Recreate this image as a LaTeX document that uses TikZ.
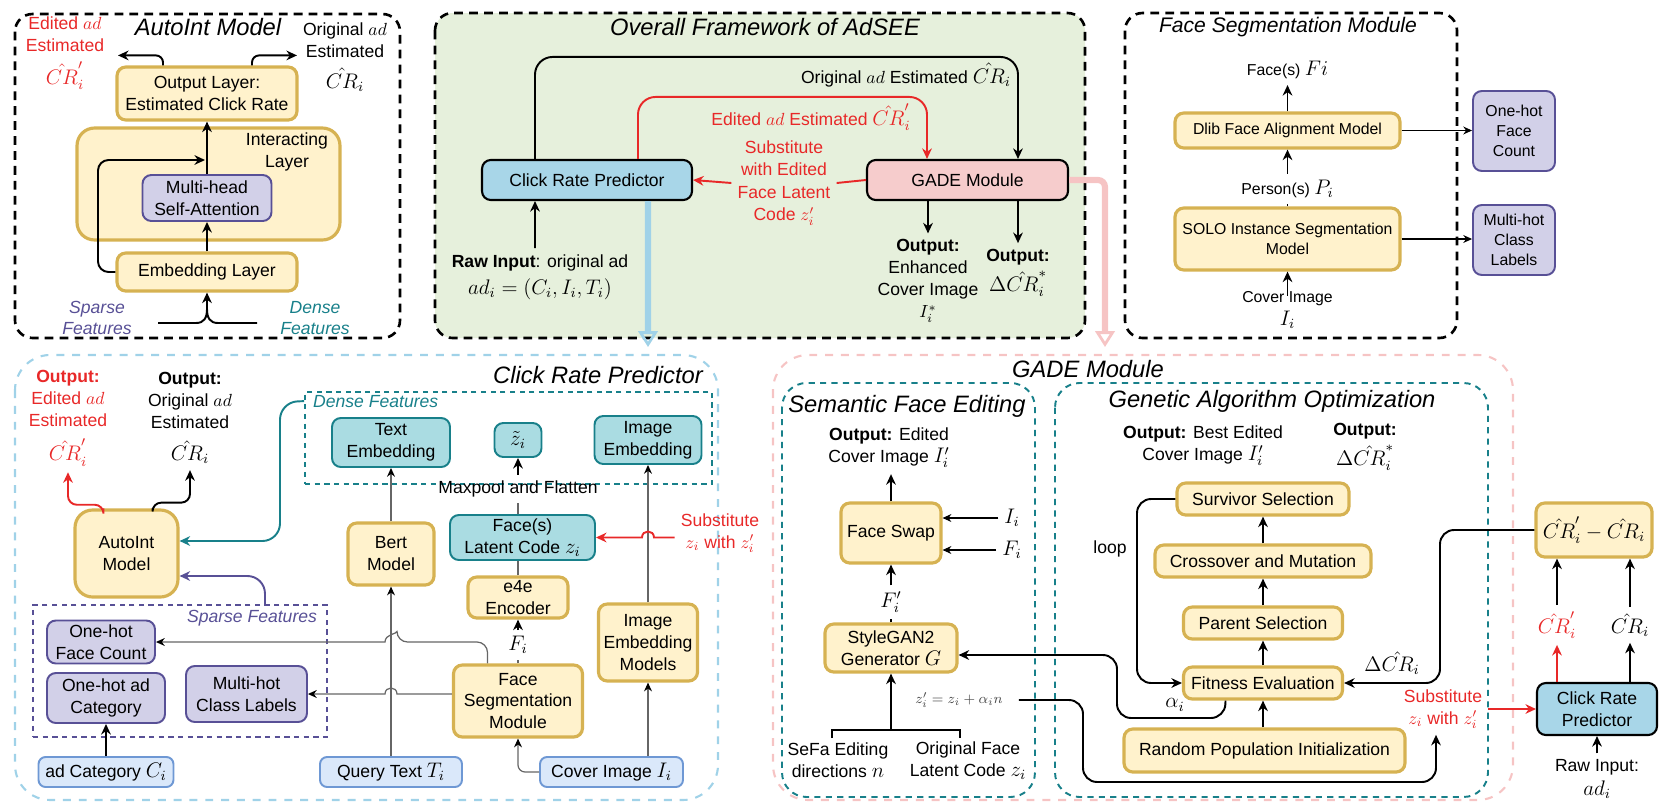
\documentclass[tikz,border=0pt]{standalone}
\usepackage{amsmath}
\usepackage[no-math]{fontspec}
\setmainfont{Liberation Sans}
\usepackage{xcolor}
\definecolor{adyellow}{RGB}{255,242,204}
\definecolor{adgold}{RGB}{214,178,82}
\definecolor{adpurple}{RGB}{210,208,232}
\definecolor{adpurpled}{RGB}{88,80,150}
\definecolor{adteal}{RGB}{170,220,226}
\definecolor{adteald}{RGB}{24,128,138}
\definecolor{adinput}{RGB}{218,232,250}
\definecolor{adinputd}{RGB}{110,152,212}
\definecolor{adcrp}{RGB}{168,214,232}
\definecolor{adpink}{RGB}{246,204,204}
\definecolor{adgreen}{RGB}{230,240,220}
\definecolor{adred}{RGB}{232,40,40}
\definecolor{adlblue}{RGB}{160,210,232}
\definecolor{adlpink}{RGB}{246,196,196}
\usepackage{tikz}
\usetikzlibrary{arrows.meta, positioning, calc}

\begin{document}
\begin{tikzpicture}[x=0.02cm, y=-0.02cm,
  every node/.style={font=\fontsize{10}{12.5}\selectfont, align=center},
  title/.style={font=\fontsize{13.5}{16}\selectfont\itshape},
  fs/.style={font=\fontsize{9}{11.5}\selectfont},
  panel/.style={draw=black, line width=1.5pt, dash pattern=on 5pt off 3.5pt, rounded corners=10pt},
  bigpanel/.style={line width=1.2pt, dash pattern=on 4.5pt off 4.5pt, rounded corners=20pt},
  subpanel/.style={draw=adteald, line width=1.1pt, dash pattern=on 3.5pt off 3pt, rounded corners=14pt},
  featbox/.style={line width=1pt, dash pattern=on 3pt off 2.5pt, minimum width=1cm},
  ybox/.style={rectangle, rounded corners=5pt, draw=adgold, line width=1.8pt, fill=adyellow, inner sep=1pt},
  pbox/.style={rectangle, rounded corners=5pt, draw=adpurpled, line width=1.1pt, fill=adpurple, inner sep=1pt},
  tbox/.style={rectangle, rounded corners=5pt, draw=adteald, line width=1.1pt, fill=adteal, inner sep=1pt},
  ibox/.style={rectangle, rounded corners=4pt, draw=adinputd, line width=1.1pt, fill=adinput, inner sep=1pt},
  kbox/.style={rectangle, rounded corners=5pt, draw=black, line width=1.2pt, inner sep=1pt},
  arr/.style={-{Stealth[length=6pt, width=5.5pt]}, line width=1.1pt},
  tarr/.style={-{Stealth[length=5pt, width=4.5pt]}, line width=0.6pt},
  garr/.style={-{Stealth[length=5pt, width=4.5pt, color=black]}, line width=0.7pt, draw=black!60},
  rarr/.style={arr, draw=adred},
  fatarr/.style={line width=3.5pt, -{Triangle[open, length=9pt, width=11pt, line width=1.6pt]}}
]
\useasboundingbox (0,0) rectangle (1660,805);

\draw[panel] (15,14) rectangle (400,338);
\draw[panel, fill=adgreen] (435,13) rectangle (1085,338);
\draw[panel] (1125,13) rectangle (1457,338);
\draw[bigpanel, draw=adlblue] (15,355) rectangle (718,800);
\draw[bigpanel, draw=adlpink] (773,355) rectangle (1513,800);
\draw[subpanel] (782,383) rectangle (1035,797);
\draw[subpanel] (1055,383) rectangle (1488,797);

\node[title] (tauto) at (208,27) {AutoInt Model};
\node[title] (tover) at (765,27) {Overall Framework of AdSEE};
\node[title, font=\fontsize{12}{14}\selectfont\itshape] (tfseg) at (1288,27) {Face Segmentation Module};
\node[title] (tcrp) at (598,375) {Click Rate Predictor};
\node[title] (tgade) at (1088,369) {GADE Module};
\node[title] (tsfe) at (907,406) {Semantic Face Editing};
\node[title] (tga) at (1272,401) {Genetic Algorithm Optimization};

\node[ybox, rounded corners=10pt, minimum width=5.26cm, minimum height=2.24cm] (inter) at (208.5,184) {};
\node (interl) at (287,152) {Interacting\\Layer};
\node[ybox, minimum width=3.6cm, minimum height=1.06cm] (outl) at (207,93.5) {Output Layer:\\Estimated Click Rate};
\node[pbox, minimum width=2.58cm, minimum height=0.92cm] (mhsa) at (207,198) {Multi-head\\Self-Attention};
\node[ybox, minimum width=3.6cm, minimum height=0.76cm] (embl) at (207,272) {Embedding Layer};
\node[text=adred] (edest) at (65,53) {Edited $ad$\\Estimated\\[5pt]{\large$\hat{CR}'_i$}};
\node (orest) at (345,57) {Original $ad$\\Estimated\\[5pt]{\large$\hat{CR}_i$}};
\node[text=adpurpled, font=\itshape] (sparl) at (97,318) {Sparse\\Features};
\node[text=adteald, font=\itshape] (densl) at (315,318) {Dense\\Features};
\coordinate (brk) at (207,309);
\coordinate (resin) at (205,160);
\draw[arr] (embl) -- (mhsa);
\draw[arr] (mhsa) -- (outl);
\draw[arr, rounded corners=6pt] (embl.west) -- (98,272) -- (98,160) -- (resin);
\draw[arr, rounded corners=4pt] ([xshift=-0.88cm]outl.north) -- ++(0,-10) -- ++(-45,0);
\draw[arr, rounded corners=4pt] ([xshift=0.9cm]outl.north) -- ++(0,-10) -- ++(45,0);
\draw[line width=1.1pt] (158,323) -- (196,323) .. controls (204,323) and (207,318) .. (brk) .. controls (207,318) and (210,323) .. (218,323) -- (257,323);
\draw[arr] (brk) -- (embl);

\node[kbox, fill=adcrp, minimum width=4.2cm, minimum height=0.8cm] (crp) at (587,180) {Click Rate Predictor};
\node[kbox, fill=adpink, minimum width=4.02cm, minimum height=0.8cm] (gade) at (967.5,180) {GADE Module};
\node (origl) at (906,75) {Original $ad$ Estimated {\large$\hat{CR}_i$}};
\node[text=adred] (editl) at (811,117) {Edited $ad$ Estimated {\large$\hat{CR}'_i$}};
\node[text=adred, font=\fontsize{10}{12.8}\selectfont] (subl) at (784,183) {Substitute\\with Edited\\Face Latent\\Code $z'_i$};
\node (rawl) at (540,277) {\textbf{Raw Input}: original ad\\[3pt]{\large$ad_i=(C_i,I_i,T_i)$}};
\node (enhl) at (928,281) {\textbf{Output:}\\Enhanced\\Cover Image\\$I_i^*$};
\node (dstl) at (1018,273) {\textbf{Output:}\\[2pt]{\large$\Delta\hat{CR}_i^*$}};
\coordinate (crpin) at (648,347);
\coordinate (gadein) at (1105,347);
\draw[arr, rounded corners=10pt] ([xshift=-1.04cm]crp.north) -- ++(0,-102) -| ([xshift=1.01cm]gade.north);
\draw[rarr, rounded corners=10pt] ([xshift=1.02cm]crp.north) -- ++(0,-62) -| ([xshift=-0.81cm]gade.north);
\draw[line width=1.1pt, adred] (gade.west) -- (subl.east);
\draw[rarr] (subl.west) -- (crp.east);
\draw[arr] ([xshift=-0.1cm]rawl.north) -- ([xshift=-1.04cm]crp.south);
\draw[arr] (gade.south -| enhl.north) -- (enhl.north);
\draw[arr] (gade.south -| dstl.north) -- (dstl.north);
\draw[fatarr, adlblue] ([xshift=1.22cm]crp.south) -- (crpin);
\draw[fatarr, adlpink, rounded corners=4pt] (gade.east) -- (1105,180) -- (gadein);

\node[ybox, fs, minimum width=4.5cm, minimum height=0.7cm] (dlib) at (1287.5,130.5) {Dlib Face Alignment Model};
\node[ybox, fs, minimum width=4.5cm, minimum height=1.24cm] (solo) at (1287.5,239) {SOLO Instance Segmentation\\Model};
\node[pbox, fs, minimum width=1.64cm, minimum height=1.6cm] (fcnt) at (1514,131) {One-hot\\Face\\Count};
\node[pbox, fs, minimum width=1.64cm, minimum height=1.4cm] (clab) at (1514,240) {Multi-hot\\Class\\Labels};
\node[fs] (facel) at (1287.5,70) {Face(s) {\large$Fi$}};
\node[fs] (persl) at (1287.5,189) {Person(s) {\large$P_i$}};
\node[fs] (covl) at (1287.5,310) {Cover Image\\[2pt]{\large$I_i$}};
\draw[arr] (dlib) -- (facel);
\draw[arr] (persl) -- (dlib);
\draw[line width=0.8pt] (solo) -- (persl);
\draw[arr] ([yshift=-0.22cm]covl.north) -- (solo);
\draw[tarr] (dlib.east) -- (dlib.east -| fcnt.west);
\draw[tarr] (solo.east) -- (solo.east -| clab.west);

\node[text=adred] (oedit) at (68,418) {\textbf{Output:}\\Edited $ad$\\Estimated\\[6pt]{\large$\hat{CR}'_i$}};
\node (oorig) at (190,418) {\textbf{Output:}\\Original $ad$\\Estimated\\[6pt]{\large$\hat{CR}_i$}};
\node[featbox, draw=adteald, minimum width=8.14cm, minimum height=1.84cm] (dense) at (508.5,438) {};
\node[featbox, draw=adpurpled, minimum width=5.88cm, minimum height=2.64cm] (sparse) at (180,671) {};
\node[text=adteald, font=\itshape, anchor=west] (densel) at (307,402) {Dense Features};
\node[text=adpurpled, font=\itshape] (sparsel) at (252,618) {Sparse Features};
\node[ybox, rounded corners=10pt, minimum width=2.06cm, minimum height=1.74cm] (autoint) at (126.5,553.5) {AutoInt\\Model};
\node[pbox, minimum width=2.16cm, minimum height=0.86cm] (ohfc) at (101,642) {One-hot\\Face Count};
\node[pbox, minimum width=2.36cm, minimum height=1.0cm] (ohac) at (106,698) {One-hot ad\\Category};
\node[pbox, minimum width=2.42cm, minimum height=1.12cm] (mhcl) at (246.5,694) {Multi-hot\\Class Labels};
\node[ibox, minimum width=2.7cm, minimum height=0.6cm] (adcat) at (106,772) {ad Category {\large$C_i$}};
\node[ybox, minimum width=1.72cm, minimum height=1.24cm] (bert) at (391,554) {Bert\\Model};
\node[ibox, minimum width=2.84cm, minimum height=0.6cm] (query) at (391,772) {Query Text {\large$T_i$}};
\node[tbox, minimum width=2.36cm, minimum height=0.98cm] (textemb) at (391,442.5) {Text\\Embedding};
\node[tbox, minimum width=0.94cm, minimum height=0.68cm] (ztil) at (518,440) {\large$\tilde{z}_i$};
\node[tbox, minimum width=2.14cm, minimum height=0.96cm] (imgemb) at (648,440) {Image\\Embedding};
\node (mpf) at (518,489) {Maxpool and Flatten};
\node[tbox, minimum width=2.9cm, minimum height=0.9cm] (latent) at (522.5,537.5) {Face(s)\\Latent Code {\large$z_i$}};
\node[ybox, minimum width=2.0cm, minimum height=0.82cm] (e4e) at (518,597.5) {e4e\\Encoder};
\node (fil) at (518,645) {\large$F_i$};
\node[ybox, minimum width=2.58cm, minimum height=1.44cm] (fsm) at (518,701) {Face\\Segmentation\\Module};
\node[ybox, minimum width=1.98cm, minimum height=1.54cm] (iem) at (648,642.5) {Image\\Embedding\\Models};
\node[ibox, minimum width=2.86cm, minimum height=0.6cm] (cover) at (611.5,772) {Cover Image {\large$I_i$}};
\node[text=adred] (sub2) at (720,533) {Substitute\\$z_i$ with $z'_i$};
\draw[arr] (adcat) -- (ohac);
\draw[arr, draw=adteald, rounded corners=10pt] ([yshift=-0.2cm]dense.north west) -- (280,402) -- (280,541) -- ([yshift=0.25cm]autoint.east);
\draw[arr, draw=adpurpled, rounded corners=10pt] ([xshift=1.7cm]sparse.north) |- ([yshift=-0.45cm]autoint.east);
\draw[rarr, rounded corners=5pt] ([xshift=-0.46cm]autoint.north) |- ([yshift=-0.65cm]oedit.south) -- (oedit.south);
\draw[arr, rounded corners=5pt] ([xshift=0.52cm]autoint.north) |- ([yshift=-0.65cm]oorig.south) -- (oorig.south);
\draw[garr, rounded corners=6pt] ([xshift=-0.61cm]fsm.north) |- (397,642) [sharp corners] .. controls (397,634) and (385,634) .. (385,642) -- (ohfc.east);
\draw[garr] ([yshift=0.14cm]fsm.west) -- (397,694) .. controls (397,686) and (385,686) .. (385,694) -- (mhcl.east);
\draw[garr] (query) -- (bert);
\draw[garr] (bert) -- (textemb);
\draw[line width=0.7pt, black!60] (fsm) -- (fil);
\draw[arr] (fil) -- (e4e);
\draw[line width=0.7pt, black!60] (e4e.north) -- (e4e.north |- latent.south);
\draw[line width=0.7pt, black!60] (latent.north -| mpf.south) -- (mpf.south);
\draw[arr] (mpf) -- (ztil);
\draw[garr, rounded corners=4pt] (cover.west) -| (fsm.south);
\draw[garr] (cover.north -| iem.south) -- (iem);
\draw[garr] (iem) -- (imgemb);
\draw[rarr] (sub2.west |- latent.east) -- (654,537.5) .. controls (654,529.5) and (642,529.5) .. (642,537.5) -- (latent.east);

\node (oedc) at (889,448) {\textbf{Output:} Edited\\Cover Image {\large$I'_i$}};
\node[ybox, minimum width=2.0cm, minimum height=1.2cm] (fswap) at (891,533) {Face Swap};
\node (iil) at (1012,518) {\large$I_i$};
\node (fil2) at (1012,550) {\large$F_i$};
\node (fpl) at (891,602) {\large$F'_i$};
\node[ybox, minimum width=2.64cm, minimum height=0.96cm] (sgan) at (891,648) {StyleGAN2\\Generator {\large$G$}};
\coordinate (brk2) at (891,730);
\node (sefa) at (838,760) {SeFa Editing\\directions {\large$n$}};
\node (ofl) at (968,761) {Original Face\\Latent Code {\large$z_i$}};
\node[text=black!70, font=\fontsize{8.5}{10}\selectfont] (zform) at (959,700) {$z'_i = z_i + \alpha_i n$};
\draw[arr] (fswap.north) -- (fswap.north |- oedc.south);
\draw[tarr] (iil.west) -- (iil.west -| fswap.east);
\draw[tarr] (fil2.west) -- (fil2.west -| fswap.east);
\draw[line width=0.8pt] (sgan) -- (fpl);
\draw[arr] (fpl) -- (fswap);
\draw[line width=1.1pt] (832,738) -- (832,730) -- (960,730) -- (960,738);
\draw[arr] (brk2) -- (sgan);

\node (obest) at (1203,446) {\textbf{Output:} Best Edited\\Cover Image {\large$I'_i$}};
\node (odelta) at (1365,447) {\textbf{Output:}\\[2pt]{\large$\Delta\hat{CR}^*_i$}};
\node[ybox, minimum width=3.44cm, minimum height=0.64cm] (surv) at (1263,499) {Survivor Selection};
\node[ybox, minimum width=4.32cm, minimum height=0.64cm] (cross) at (1263,561) {Crossover and Mutation};
\node[ybox, minimum width=3.18cm, minimum height=0.64cm] (parent) at (1263,623) {Parent Selection};
\node[ybox, minimum width=3.18cm, minimum height=0.64cm] (fit) at (1263,683) {Fitness Evaluation};
\node[ybox, minimum width=5.62cm, minimum height=0.86cm] (rpi) at (1264.5,750.5) {Random Population Initialization};
\node (loopl) at (1110,549) {loop};
\node (dcrl) at (1392,663) {\large$\Delta\hat{CR}_i$};
\node (alphal) at (1175,705) {\large$\alpha_i$};
\node[text=adred] (sub3) at (1443,709) {Substitute\\$z_i$ with $z'_i$};
\node[ybox, minimum width=2.32cm, minimum height=1.08cm] (diff) at (1594,530) {\large$\hat{CR}'_i - \hat{CR}_i$};
\node[text=adred] (crl) at (1557,625) {\large$\hat{CR}'_i$};
\node (cro) at (1630,625) {\large$\hat{CR}_i$};
\node[kbox, fill=adcrp, minimum width=2.4cm, minimum height=1.04cm] (crp2) at (1597,709) {Click Rate\\Predictor};
\node (raw2) at (1597,779) {Raw Input:\\[1pt]{\large$ad_i$}};
\draw[arr] (rpi.north -| fit.south) -- (fit);
\draw[arr] (fit) -- (parent);
\draw[arr] (parent) -- (cross);
\draw[arr] (cross) -- (surv);
\draw[arr, rounded corners=8pt] (surv.west) -- (1137,499) -- (1137,683) -- (fit.west);
\draw[arr, rounded corners=8pt] (diff.west) -- (1440,530) -- (1440,683) -- (fit.east);
\draw[arr, rounded corners=8pt] ([xshift=-0.75cm]fit.south) -- (1225,718) -- (1117,718) -- (1117,655) -- ([yshift=-0.14cm]sgan.east);
\draw[arr, rounded corners=8pt] ([xshift=0.2cm]zform.east) -- (1083,700) -- (1083,782) -- (1436,782) -- ([xshift=-0.14cm]sub3.south);
\draw[rarr] (sub3.east |- crp2.west) -- (crp2.west);
\draw[arr] (crl) -- (crl |- diff.south);
\draw[arr] (cro) -- (cro |- diff.south);
\draw[rarr] (crl |- crp2.north) -- (crl);
\draw[arr] (cro |- crp2.north) -- (cro);
\draw[arr] (raw2) -- (crp2);
\end{tikzpicture}
\end{document}
